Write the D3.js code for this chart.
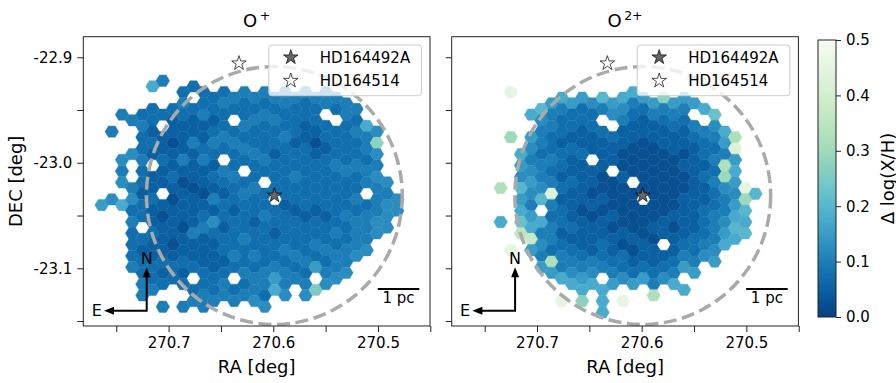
<!DOCTYPE html>
<html>
<head>
<meta charset="utf-8">
<script src="https://cdn.jsdelivr.net/npm/d3@7"></script>
<style>
  body { margin: 0; background: #fff; }
  text { font-family: "DejaVu Sans", sans-serif; fill: #000; }
</style>
</head>
<body>
<div id="chart"></div>
<script>
// hex cells, one string per grid column (col -17 .. 13), one char per row (-11 .. 11)
// '.' = empty, a..u = 0.000 .. 0.500 in steps of 0.025
const colStart = -17, rowStart = -11;
const valueCodes = "abcdefghijklmnopqrstu";

const oPlusCols = [
  "...........g...........",
  ".....e.....f...........",
  "...e...fef.h...........",
  "....e..f..efdeddde.....",
  "...deddeddcdd.dcddee...",
  ".h.ddcdc.ccdccdccdde...",
  "e..d.ccdcc.cbcccdcd.e..",
  "...dccbccdcbcccbcdd....",
  ".dedcccecbcccbccdcd.e..",
  ".d.dccecccbccceccd.de..",
  ".ddeccdeccbcdecccddee..",
  "..ddcdedcdcecfdcccdde..",
  ".dedded.edcddcddcdee...",
  "..ed.deddeddcddded.de..",
  ".eddeded.dedddeddede...",
  "..ededdeddeddcddedeef..",
  ".ededdded.ddeddddeedf..",
  "..ededdcddd.ddcddegh...",
  ".eeddedddddcdddedeef...",
  "..edddcddeddcdddede....",
  ".eddccddddddcdddedef...",
  "..eddcbcddddcddedg.k...",
  ".ee.ddcdddddcddedef....",
  "..ed.dddedddddedeef....",
  "..eeddddedddeddeef.....",
  "...ededdeddedeeef......",
  "....heedee.deeef.......",
  ".....flfefeeeff........",
  ".........fefff.........",
  "...........ff..........",
  "......................."
];

const o2PlusCols = [
  ".......................",
  ".......................",
  ".......................",
  "..........n..h.........",
  ".s...m.........s.......",
  ".......hgfighjo........",
  "...h.gfefgfeghpg.......",
  "...ifeedeefi.hefeg.....",
  "..geeddederedeedng.....",
  "..heddcddcdcddcdeeh.s..",
  "..gddcdccdcccdcdefh....",
  "..gddccdccccbcccdeghl..",
  "..fddcc.ccbcbcccefh....",
  "..ie.dcccbbcbccdde.hhh.",
  "..gf.dcc.bbbcbccdeg....",
  "..hfeccbbcbbbbcbddf.s..",
  ".hedccbbb.bbbbcbcdg....",
  "..gdccbbbbb.bbbccdg....",
  "..geccbbbbbbbcbccden...",
  "..ledccbbbbbbcc.cdf....",
  "..gedccbbbbbcbccdeh....",
  "..gedccbcbbccccdeg.h...",
  "..g.edccccccccddeg.....",
  "...h.eddcdccdddef......",
  "...jfedededdeeefg......",
  ".....hgenmfeefgh.......",
  ".....nrghgfghih........",
  "..........smihi........",
  "..........i............",
  ".......................",
  "......................."
];

const panelTitles = ["O", "O"];
const panelSups = ["+", "2+"];

const xTickValues = [270.75, 270.7, 270.65, 270.6, 270.55, 270.5, 270.45];
const yTickValues = [-22.9, -22.95, -23.0, -23.05, -23.1, -23.15];
const cbarTicks = [0, 0.1, 0.2, 0.3, 0.4, 0.5];

const starNames = ["HD164492A", "HD164514"];
const starRa = [270.599, 270.6328];
const starDec = [-23.031, -22.9057];
const starFill = ["#666666", "#ffffff"];

// hex grid (data units)
const gridRa0 = 270.5984, gridDec0 = -23.0347;
const dRa = 0.00974, dDec = 0.01071, hexR = dRa / 1.5;
const circleRadius = 0.1222;   // deg
const scaleBarDeg = 0.0397;    // 1 pc

const raDomain = [270.7815, 270.4503];
const decDomain = [-22.8805, -23.1547];

const panelTop = 36.7, panelW = 346.7, panelH = 289.3;
const panelLefts = [83.3, 451.7];

const svg = d3.select("#chart").append("svg")
  .attr("width", 896)
  .attr("height", 383);

const color = d3.scaleSequential(d3.interpolateGnBu).domain([0.5, 0]);

panelLefts.forEach((left, k) => {
  const cols = k === 0 ? oPlusCols : o2PlusCols;

  const x = d3.scaleLinear().domain(raDomain).range([0, panelW]);
  const y = d3.scaleLinear().domain(decDomain).range([0, panelH]);

  const g = svg.append("g").attr("transform", "translate(" + left + "," + panelTop + ")");

  g.append("clipPath").attr("id", "clip" + k)
    .append("rect").attr("width", panelW).attr("height", panelH);

  const plot = g.append("g").attr("clip-path", "url(#clip" + k + ")");

  // collect cells
  var cells = [];
  cols.forEach(function(s, i) {
    const c = colStart + i;
    const odd = Math.abs(c % 2) === 1;
    for (let j = 0; j < s.length; j++) {
      const ch = s[j];
      if (ch === ".") continue;
      const r = rowStart + j;
      cells.push({
        ra: gridRa0 - c * dRa,
        dec: gridDec0 - (r + (odd ? 0.5 : 0)) * dDec,
        v: valueCodes.indexOf(ch) * 0.025
      });
    }
  });

  plot.selectAll("path.hex")
    .data(cells)
    .enter()
    .append("path")
      .attr("class", "hex")
      .attr("d", function(d) {
        var pts = [
          [d.ra + hexR, d.dec], [d.ra + hexR / 2, d.dec + dDec / 2],
          [d.ra - hexR / 2, d.dec + dDec / 2], [d.ra - hexR, d.dec],
          [d.ra - hexR / 2, d.dec - dDec / 2], [d.ra + hexR / 2, d.dec - dDec / 2]
        ];
        return "M" + pts.map(function(q) { return x(q[0]) + "," + y(q[1]); }).join("L") + "Z";
      })
      .style("fill", function(d) { return color(d.v); })
      .style("stroke", function(d) { return color(d.v); })
      .style("stroke-width", 0.4);

  // dashed circle around HD164492A
  plot.append("ellipse")
    .attr("cx", x(starRa[0]))
    .attr("cy", y(starDec[0]))
    .attr("rx", Math.abs(x(starRa[0] - circleRadius) - x(starRa[0])))
    .attr("ry", Math.abs(y(starDec[0] - circleRadius) - y(starDec[0])))
    .style("fill", "none")
    .style("stroke", "#aaaaaa")
    .style("stroke-width", 3.5)
    .style("stroke-dasharray", "13,5.6");

  // stars
  const star = d3.symbol().type(d3.symbolStar).size(66);
  starNames.forEach(function(name, i) {
    plot.append("path")
      .attr("d", star)
      .attr("transform", "translate(" + x(starRa[i]) + "," + y(starDec[i]) + ")")
      .style("fill", starFill[i])
      .style("stroke", "#000")
      .style("stroke-width", 0.7);
  });

  // legend
  const lg = g.append("g").attr("transform", "translate(185.5,8.3)");
  lg.append("rect")
    .attr("width", 152.7).attr("height", 50.7)
    .attr("rx", 3)
    .style("fill", "#fff").style("fill-opacity", 0.8)
    .style("stroke", "#cccccc").style("stroke-width", 1);
  starNames.forEach(function(name, i) {
    lg.append("path")
      .attr("d", star)
      .attr("transform", "translate(22," + (12.3 + i * 23.4) + ")")
      .style("fill", starFill[i])
      .style("stroke", "#000")
      .style("stroke-width", 0.7);
    lg.append("text")
      .attr("x", 51)
      .attr("y", 18 + i * 23.4)
      .style("font-size", "15px")
      .text(name);
  });

  // scale bar
  const barRight = panelW - 10.7;
  const barLeft = barRight - Math.abs(x(270.6 - scaleBarDeg) - x(270.6));
  g.append("line")
    .attr("x1", barLeft).attr("x2", barRight)
    .attr("y1", panelH - 37).attr("y2", panelH - 37)
    .style("stroke", "#000").style("stroke-width", 2);
  g.append("text")
    .attr("x", (barLeft + barRight) / 2)
    .attr("y", panelH - 23)
    .attr("text-anchor", "middle")
    .style("font-size", "15px")
    .text("1 pc");

  // compass
  const cx0 = 63.4, cy0 = panelH - 15.3;
  g.append("path")
    .attr("d", "M" + cx0 + "," + (cy0 + 1) + "V" + (cy0 - 34) + "M" + (cx0 + 1) + "," + cy0 + "H" + 29)
    .style("fill", "none").style("stroke", "#000").style("stroke-width", 2);
  g.append("path")
    .attr("d", "M" + cx0 + "," + (cy0 - 43.4) + "l-4,10h8z")
    .style("fill", "#000");
  g.append("path")
    .attr("d", "M20.7," + cy0 + "l10,-4v8z")
    .style("fill", "#000");
  g.append("text")
    .attr("x", cx0).attr("y", cy0 - 47)
    .attr("text-anchor", "middle")
    .style("font-size", "16px")
    .text("N");
  g.append("text")
    .attr("x", 13.4).attr("y", cy0 + 5.7)
    .attr("text-anchor", "middle")
    .style("font-size", "16px")
    .text("E");

  // axes
  const isLabel = function(d) { return Math.abs(d * 10 - Math.round(d * 10)) < 1e-6; };
  const xAxis = g.append("g")
    .attr("transform", "translate(0," + panelH + ")")
    .call(d3.axisBottom(x).tickValues(xTickValues).tickSize(6).tickPadding(5)
      .tickFormat(function(d) { return isLabel(d) ? d.toFixed(1) : ""; }));
  const yAxis = g.append("g")
    .call(d3.axisLeft(y).tickValues(yTickValues).tickSize(6).tickPadding(5)
      .tickFormat(function(d) { return (k === 0 && isLabel(d)) ? d.toFixed(1) : ""; }));
  [xAxis, yAxis].forEach(function(a) {
    a.select(".domain").remove();
    a.selectAll(".tick line").style("stroke", "#222");
    a.selectAll(".tick text").style("font-size", "15px").style("font-family", "DejaVu Sans").style("fill", "#000");
  });

  g.append("rect")
    .attr("width", panelW).attr("height", panelH)
    .style("fill", "none").style("stroke", "#222").style("stroke-width", 1);

  // labels
  g.append("text")
    .attr("x", panelW / 2).attr("y", panelH + 47)
    .attr("text-anchor", "middle")
    .style("font-size", "18px")
    .text("RA [deg]");

  if (k === 0) {
    g.append("text")
      .attr("transform", "translate(" + (21.5 - left) + "," + (panelH / 2) + ") rotate(-90)")
      .attr("text-anchor", "middle")
      .style("font-size", "18px")
      .text("DEC [deg]");
  }

  const t = g.append("text")
    .attr("x", panelW / 2).attr("y", -10)
    .attr("text-anchor", "middle")
    .style("font-size", "18px");
  t.append("tspan").text(panelTitles[k]);
  t.append("tspan").attr("dy", -7).style("font-size", "12.5px").text("\u2009" + panelSups[k]);
});

// colorbar
const cbX = 818, cbTop = 40, cbBottom = 317, cbW = 18;
const cbScale = d3.scaleLinear().domain([0, 0.5]).range([cbBottom, cbTop]);

const grad = svg.append("defs").append("linearGradient")
  .attr("id", "cbgrad")
  .attr("x1", 0).attr("y1", 1).attr("x2", 0).attr("y2", 0);
d3.range(0, 1.0001, 0.05).forEach(function(t) {
  grad.append("stop").attr("offset", t).attr("stop-color", color(t * 0.5));
});

svg.append("rect")
  .attr("x", cbX).attr("y", cbTop)
  .attr("width", cbW).attr("height", cbBottom - cbTop)
  .style("fill", "url(#cbgrad)")
  .style("stroke", "#222").style("stroke-width", 1);

const cbAxis = svg.append("g")
  .attr("transform", "translate(" + (cbX + cbW) + ",0)")
  .call(d3.axisRight(cbScale).tickValues(cbarTicks).tickSize(5).tickPadding(5).tickFormat(d3.format(".1f")));
cbAxis.select(".domain").remove();
cbAxis.selectAll(".tick line").style("stroke", "#222");
cbAxis.selectAll(".tick text").style("font-size", "15px").style("font-family", "DejaVu Sans").style("fill", "#000");

svg.append("text")
  .attr("transform", "translate(893.5," + ((cbTop + cbBottom) / 2) + ") rotate(-90)")
  .attr("text-anchor", "middle")
  .style("font-size", "18px")
  .text("\u0394 log(X/H)");
</script>
</body>
</html>
